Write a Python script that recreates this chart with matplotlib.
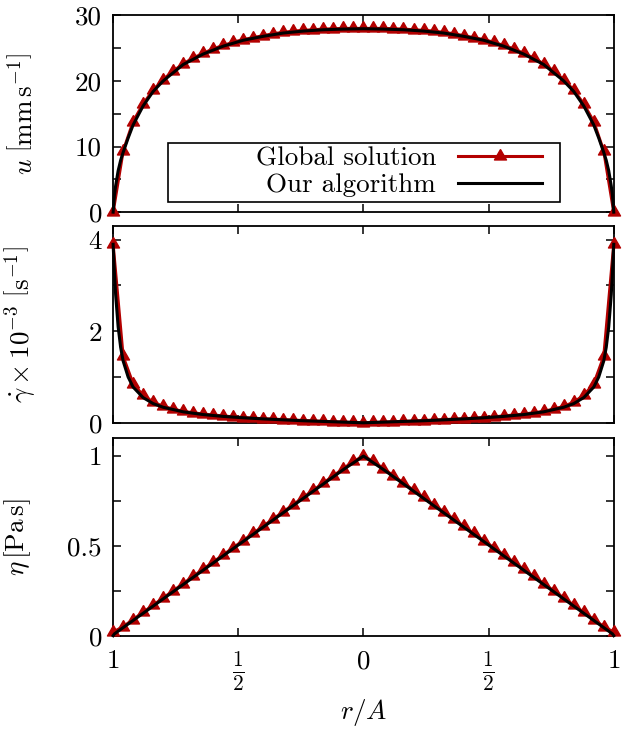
import numpy as np
import matplotlib
matplotlib.use("Agg")
import matplotlib.pyplot as plt
from matplotlib.patches import Rectangle

plt.rcParams["font.family"] = ["cmr10", "DejaVu Serif"]
plt.rcParams["mathtext.fontset"] = "cm"
plt.rcParams["axes.formatter.use_mathtext"] = True
plt.rcParams["font.size"] = 19.5

# ---------- data ----------
# global solution, sampled every 0.04 in r/A
r_glob = np.linspace(-1.0, 1.0, 51)
u_glob = [0.0, 9.3, 13.8, 16.5, 18.6, 20.2, 21.5, 22.6, 23.5, 24.2, 24.9, 25.4, 25.9,
          26.3, 26.6, 26.9, 27.2, 27.4, 27.6, 27.7, 27.8, 27.9, 27.95, 28.0, 28.0,
          28.0,
          28.0, 28.0, 27.95, 27.9, 27.8, 27.7, 27.6, 27.4, 27.2, 26.9, 26.6, 26.3,
          25.9, 25.4, 24.9, 24.2, 23.5, 22.6, 21.5, 20.2, 18.6, 16.5, 13.8, 9.3, 0.0]
gd_glob = [3.9, 1.45, 0.85, 0.6, 0.45, 0.36, 0.3, 0.25, 0.22, 0.19, 0.17, 0.15, 0.13,
           0.115, 0.1, 0.09, 0.08, 0.07, 0.06, 0.05, 0.04, 0.032, 0.024, 0.016, 0.008,
           0.0,
           0.008, 0.016, 0.024, 0.032, 0.04, 0.05, 0.06, 0.07, 0.08, 0.09, 0.1, 0.115,
           0.13, 0.15, 0.17, 0.19, 0.22, 0.25, 0.3, 0.36, 0.45, 0.6, 0.85, 1.45, 3.9]
eta_glob = [0.02, 0.05, 0.09, 0.13, 0.17, 0.21, 0.25, 0.29, 0.33, 0.37, 0.41, 0.45, 0.49,
            0.53, 0.57, 0.61, 0.65, 0.69, 0.73, 0.77, 0.81, 0.85, 0.89, 0.93, 0.97,
            1.0,
            0.97, 0.93, 0.89, 0.85, 0.81, 0.77, 0.73, 0.69, 0.65, 0.61, 0.57, 0.53,
            0.49, 0.45, 0.41, 0.37, 0.33, 0.29, 0.25, 0.21, 0.17, 0.13, 0.09, 0.05, 0.02]

# our algorithm (finer near the walls)
r_alg = [-1.0, -0.995, -0.99, -0.98, -0.97, -0.96, -0.94, -0.92, -0.88, -0.84, -0.80,
         -0.72, -0.64, -0.56, -0.48, -0.40, -0.32, -0.24, -0.16, -0.08, 0.0,
         0.08, 0.16, 0.24, 0.32, 0.40, 0.48, 0.56, 0.64, 0.72, 0.80,
         0.84, 0.88, 0.92, 0.94, 0.96, 0.97, 0.98, 0.99, 0.995, 1.0]
u_alg = [0.0, 2.5, 4.0, 6.3, 7.9, 9.1, 11.3, 13.3, 16.2, 18.4, 20.0,
         22.5, 24.1, 25.3, 26.2, 26.8, 27.3, 27.6, 27.8, 27.9, 27.95,
         27.9, 27.8, 27.6, 27.3, 26.8, 26.2, 25.3, 24.1, 22.5, 20.0,
         18.4, 16.2, 13.3, 11.3, 9.1, 7.9, 6.3, 4.0, 2.5, 0.0]
gd_alg = [3.9, 3.3, 2.8, 2.1, 1.65, 1.35, 1.0, 0.78, 0.55, 0.42, 0.34,
          0.24, 0.18, 0.14, 0.11, 0.085, 0.065, 0.045, 0.03, 0.015, 0.0,
          0.015, 0.03, 0.045, 0.065, 0.085, 0.11, 0.14, 0.18, 0.24, 0.34,
          0.42, 0.55, 0.78, 1.0, 1.35, 1.65, 2.1, 2.8, 3.3, 3.9]
eta_alg = [0.0, 0.01, 0.015, 0.025, 0.035, 0.045, 0.065, 0.085, 0.125, 0.165, 0.205,
           0.285, 0.365, 0.445, 0.525, 0.605, 0.685, 0.765, 0.845, 0.925, 1.0,
           0.925, 0.845, 0.765, 0.685, 0.605, 0.525, 0.445, 0.365, 0.285, 0.205,
           0.165, 0.125, 0.085, 0.065, 0.045, 0.035, 0.025, 0.015, 0.01, 0.0]

x_ticks = [-1.0, -0.5, 0.0, 0.5, 1.0]
x_ticklabels = ["$1$", r"$\frac{1}{2}$", "$0$", r"$\frac{1}{2}$", "$1$"]

RED = "#b30000"
# triangle centred on its centroid, like gnuplot's pt 9
TRI = [(0, 1), (-0.866, -0.5), (0.866, -0.5), (0, 1)]


def style_axis(ax, yticks, ylabels, ylim, ylabel, xlab_x):
    ax.set_xlim(-1, 1)
    ax.set_ylim(*ylim)
    ax.set_xticks(x_ticks)
    ax.set_yticks(yticks)
    ax.set_yticklabels(ylabels)
    ax.tick_params(direction="in", length=6, width=1.1, top=True, right=True, pad=8)
    for s in ax.spines.values():
        s.set_linewidth(1.3)
    ax.set_ylabel(ylabel)
    ax.yaxis.set_label_coords(xlab_x, 0.5)


fig = plt.figure(figsize=(6.25, 7.29), dpi=100)
L, W = 0.181, 0.801
ax1 = fig.add_axes([L, 0.709, W, 0.270])
ax2 = fig.add_axes([L, 0.420, W, 0.270])
ax3 = fig.add_axes([L, 0.128, W, 0.271])

panels = [
    (ax1, u_glob, u_alg),
    (ax2, gd_glob, gd_alg),
    (ax3, eta_glob, eta_alg),
]
for ax, yg, ya in panels:
    ax.plot(r_glob, yg, color=RED, lw=2.2, marker=TRI, ms=10, clip_on=False,
            zorder=3, label="Global solution")
    ax.plot(r_alg, ya, color="black", lw=2.2, clip_on=False, zorder=4,
            label="Our algorithm")

style_axis(ax1, [0, 5, 10, 15, 20, 25, 30], ["0", "", "10", "", "20", "", "30"],
           (0, 30), r"$u\ \left[\mathrm{mm\,s^{-1}}\right]$", -0.152)
style_axis(ax2, [0, 1, 2, 3, 4], ["0", "", "2", "", "4"],
           (0, 4.3), r"$\dot{\gamma}\times 10^{-3}\ \left[\mathrm{s^{-1}}\right]$", -0.152)
style_axis(ax3, [0, 0.25, 0.5, 0.75, 1.0], ["0", "", "0.5", "", "1"],
           (0, 1.1), r"$\eta\,[\mathrm{Pa\,s}]$", -0.16)

for ax in (ax1, ax2):
    ax.set_xticklabels([])
ax3.set_xticklabels(x_ticklabels)
ax3.tick_params(axis="x", pad=10)
for lab in ax3.get_xticklabels():
    if "frac" in lab.get_text():
        lab.set_fontsize(22)
ax3.set_xlabel(r"$r/A$")
ax3.xaxis.set_label_coords(0.5, -0.31)

# legend box, gnuplot style (text first, sample after)
ax1.add_patch(Rectangle((0.11, 0.05), 0.782, 0.30, transform=ax1.transAxes,
                        facecolor="white", edgecolor="black", lw=1.2, zorder=5))
leg = ax1.legend(loc="center right", bbox_to_anchor=(0.856, 0.205), frameon=False,
                 markerfirst=False, handlelength=3.1, handletextpad=0.8,
                 labelspacing=0.1, borderpad=0, borderaxespad=0, numpoints=1)
leg.set_zorder(6)

fig.savefig("out.png", dpi=100)
